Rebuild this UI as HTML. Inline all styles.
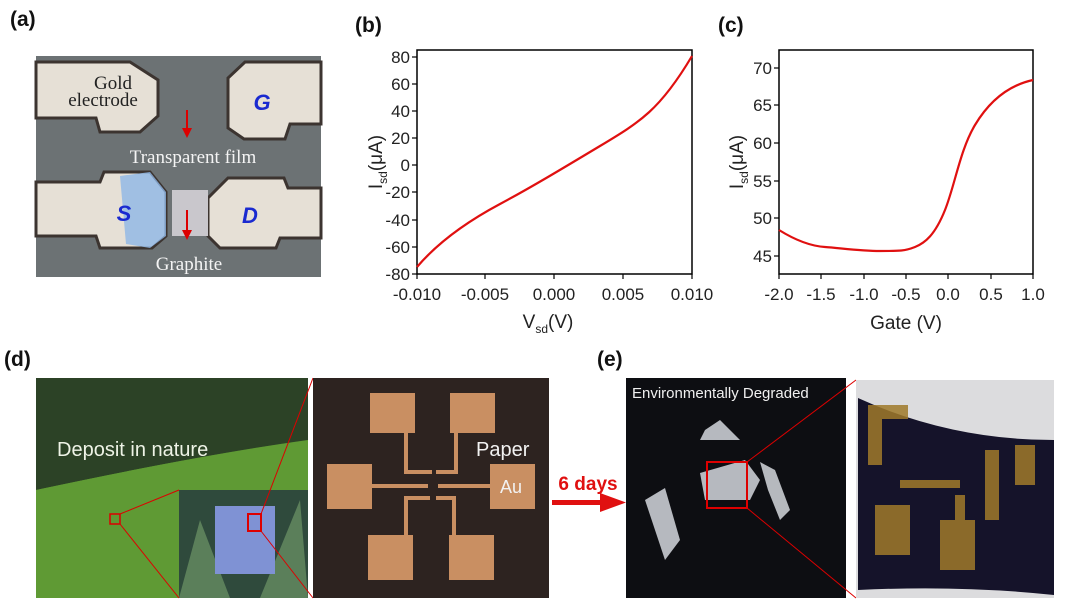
<!DOCTYPE html>
<html><head><meta charset="utf-8"><style>
html,body{margin:0;padding:0;background:#fff;}
svg{display:block;font-family:"Liberation Sans",Arial,sans-serif;}
</style></head><body>
<svg width="1080" height="614" viewBox="0 0 1080 614" xmlns="http://www.w3.org/2000/svg">
<defs>
<linearGradient id="sky" x1="0" y1="0" x2="0" y2="1"><stop offset="0" stop-color="#2f4a2a"/><stop offset="0.3" stop-color="#3b5a2c"/><stop offset="0.4" stop-color="#5f9a35"/><stop offset="1" stop-color="#4f8a2a"/></linearGradient>
<radialGradient id="blue" cx="0.5" cy="0.5" r="0.6"><stop offset="0" stop-color="#c8d8ef"/><stop offset="1" stop-color="#7fa8d8"/></radialGradient>
</defs>

<!-- panel labels -->
<g font-weight="bold" font-size="21" fill="#111">
<text x="10" y="26">(a)</text>
<text x="355" y="32">(b)</text>
<text x="718" y="32">(c)</text>
<text x="4" y="366">(d)</text>
<text x="597" y="366">(e)</text>
</g>

<!-- panel a -->
<rect x="36" y="56" width="285" height="221" fill="#6c7274"/>
<g fill="#e6e0d6" stroke="#3c3430" stroke-width="3">
<path d="M36 62 H130 L158 80 V116 L140 132 H100 L96 118 H36 Z"/>
<path d="M321 62 H245 L228 78 V128 L244 139 H285 L290 124 H321 Z"/>
<path d="M36 182 H100 L104 172 H150 L166 192 V236 L152 248 H100 L96 236 H36 Z"/>
<path d="M321 188 H288 L284 178 H228 L208 198 V236 L220 248 H276 L280 238 H321 Z"/>
</g>
<path d="M120 176 L150 172 L166 192 V236 L150 248 L126 244 Z" fill="#8fb6e6" opacity="0.8"/>
<rect x="172" y="190" width="36" height="46" fill="#c9c7cc"/>
<g fill="#d00"><rect x="186" y="110" width="2" height="20"/><path d="M182 128 L187 138 L192 128Z"/><rect x="186" y="210" width="2" height="22"/><path d="M182 230 L187 240 L192 230Z"/></g>
<g font-family="Liberation Serif,serif" font-size="19">
<text x="113" y="89" text-anchor="middle" fill="#222">Gold</text>
<text x="103" y="106" text-anchor="middle" fill="#222">electrode</text>
<text x="193" y="163" text-anchor="middle" fill="#f4f4f4">Transparent film</text>
<text x="189" y="270" text-anchor="middle" fill="#f4f4f4">Graphite</text>
</g>
<g font-weight="bold" font-style="italic" font-size="22" fill="#1a2ad0">
<text x="262" y="110" text-anchor="middle">G</text>
<text x="124" y="221" text-anchor="middle">S</text>
<text x="250" y="223" text-anchor="middle">D</text>
</g>

<!-- panel b -->
<g stroke="#000" stroke-width="1.5" fill="none">
<rect x="417" y="50" width="275" height="224"/>
</g>
<g stroke="#000" stroke-width="1.2">
<line x1="412" y1="57" x2="417" y2="57"/><line x1="412" y1="84" x2="417" y2="84"/><line x1="412" y1="111" x2="417" y2="111"/><line x1="412" y1="138" x2="417" y2="138"/><line x1="412" y1="165" x2="417" y2="165"/><line x1="412" y1="192" x2="417" y2="192"/><line x1="412" y1="220" x2="417" y2="220"/><line x1="412" y1="247" x2="417" y2="247"/><line x1="412" y1="274" x2="417" y2="274"/>
<line x1="417" y1="274" x2="417" y2="279"/><line x1="485" y1="274" x2="485" y2="279"/><line x1="554" y1="274" x2="554" y2="279"/><line x1="623" y1="274" x2="623" y2="279"/><line x1="692" y1="274" x2="692" y2="279"/>
</g>
<g font-size="17" fill="#222" text-anchor="end">
<text x="410" y="63">80</text><text x="410" y="90">60</text><text x="410" y="117">40</text><text x="410" y="144">20</text><text x="410" y="171">0</text><text x="410" y="198">-20</text><text x="410" y="226">-40</text><text x="410" y="253">-60</text><text x="410" y="280">-80</text>
</g>
<g font-size="17" fill="#222" text-anchor="middle">
<text x="417" y="300">-0.010</text><text x="485" y="300">-0.005</text><text x="554" y="300">0.000</text><text x="623" y="300">0.005</text><text x="692" y="300">0.010</text>
<text x="548" y="328" font-size="19">V<tspan font-size="12" dy="5">sd</tspan><tspan dy="-5">(V)</tspan></text>
</g>
<text transform="translate(382,162) rotate(-90)" font-size="19" fill="#222" text-anchor="middle">I<tspan font-size="12" dy="5">sd</tspan><tspan dy="-5">(μA)</tspan></text>
<path d="M417 267 C440 240 470 220 500 204 S560 170 600 146 S660 110 692 56" stroke="#e01010" stroke-width="2.2" fill="none"/>

<!-- panel c -->
<rect x="779" y="50" width="254" height="224" stroke="#000" stroke-width="1.5" fill="none"/>
<g stroke="#000" stroke-width="1.2">
<line x1="774" y1="68" x2="779" y2="68"/><line x1="774" y1="105" x2="779" y2="105"/><line x1="774" y1="143" x2="779" y2="143"/><line x1="774" y1="181" x2="779" y2="181"/><line x1="774" y1="218" x2="779" y2="218"/><line x1="774" y1="256" x2="779" y2="256"/>
<line x1="779" y1="274" x2="779" y2="279"/><line x1="821" y1="274" x2="821" y2="279"/><line x1="864" y1="274" x2="864" y2="279"/><line x1="906" y1="274" x2="906" y2="279"/><line x1="948" y1="274" x2="948" y2="279"/><line x1="991" y1="274" x2="991" y2="279"/><line x1="1033" y1="274" x2="1033" y2="279"/>
</g>
<g font-size="17" fill="#222" text-anchor="end">
<text x="772" y="74">70</text><text x="772" y="111">65</text><text x="772" y="149">60</text><text x="772" y="187">55</text><text x="772" y="224">50</text><text x="772" y="262">45</text>
</g>
<g font-size="17" fill="#222" text-anchor="middle">
<text x="779" y="300">-2.0</text><text x="821" y="300">-1.5</text><text x="864" y="300">-1.0</text><text x="906" y="300">-0.5</text><text x="948" y="300">0.0</text><text x="991" y="300">0.5</text><text x="1033" y="300">1.0</text>
<text x="906" y="329" font-size="19">Gate (V)</text>
</g>
<text transform="translate(743,162) rotate(-90)" font-size="19" fill="#222" text-anchor="middle">I<tspan font-size="12" dy="5">sd</tspan><tspan dy="-5">(μA)</tspan></text>
<path d="M779 230 C795 240 810 246 825 247 S860 251 880 251 S905 251 915 247 S935 235 945 210 S960 150 975 125 S1010 85 1033 80" stroke="#e01010" stroke-width="2.2" fill="none"/>

<!-- panel d photo 1 -->
<rect x="36" y="378" width="272" height="220" fill="url(#sky)"/>
<path d="M36 378 H308 V440 Q200 455 36 490 Z" fill="#2c4226"/>
<path d="M36 490 Q200 455 308 440 V598 H36 Z" fill="#5f9a34"/>
<text x="57" y="456" font-size="20" fill="#eef3e6">Deposit in nature</text>
<rect x="179" y="490" width="129" height="108" fill="#2f4a3c"/>
<path d="M179 598 L200 520 L230 598Z M260 598 L300 500 L308 598Z" fill="#5b7f5a"/>
<rect x="215" y="506" width="60" height="68" fill="#7f92d4"/>
<rect x="248" y="514" width="13" height="17" fill="none" stroke="#d00" stroke-width="2"/>
<rect x="110" y="514" width="10" height="10" fill="none" stroke="#d00" stroke-width="1.5"/>
<g stroke="#d00" stroke-width="1"><line x1="120" y1="514" x2="179" y2="490"/><line x1="120" y1="524" x2="179" y2="598"/><line x1="261" y1="514" x2="313" y2="378"/><line x1="261" y1="531" x2="313" y2="598"/></g>

<!-- panel d photo 2 -->
<rect x="313" y="378" width="236" height="220" fill="#2d2320"/>
<g fill="#c98f62">
<rect x="370" y="393" width="45" height="40"/><rect x="450" y="393" width="45" height="40"/>
<rect x="327" y="464" width="45" height="45"/><rect x="490" y="464" width="45" height="45"/>
<rect x="368" y="535" width="45" height="45"/><rect x="449" y="535" width="45" height="45"/>
<rect x="404" y="433" width="4" height="40"/><rect x="454" y="433" width="4" height="40"/>
<rect x="404" y="470" width="28" height="4"/><rect x="436" y="470" width="22" height="4"/>
<rect x="372" y="484" width="56" height="4"/><rect x="438" y="484" width="52" height="4"/>
<rect x="404" y="496" width="4" height="40"/><rect x="452" y="496" width="4" height="40"/>
<rect x="404" y="496" width="26" height="4"/><rect x="436" y="496" width="20" height="4"/>
</g>
<text x="476" y="456" font-size="20" fill="#f2f2f2">Paper</text>
<text x="500" y="493" font-size="18" fill="#f2f2f2">Au</text>

<!-- arrow -->
<text x="588" y="490" font-size="19" font-weight="bold" fill="#e01010" text-anchor="middle">6 days</text>
<rect x="552" y="500" width="50" height="5" fill="#e01010"/>
<path d="M600 493 L626 502.5 L600 512Z" fill="#e01010"/>

<!-- panel e photo 1 -->
<rect x="626" y="378" width="220" height="220" fill="#0d0e12"/>
<text x="632" y="398" font-size="15" fill="#f0f0f0">Environmentally Degraded</text>
<g fill="#c9ccd2" opacity="0.9">
<path d="M645 500 L665 488 L680 540 L665 560 Z"/>
<path d="M700 473 L745 460 L760 480 L750 500 L705 500 Z"/>
<path d="M705 430 L720 420 L740 440 L700 440 Z"/>
<path d="M760 462 L775 470 L790 510 L780 520 L768 490 Z"/>
</g>
<rect x="707" y="462" width="40" height="46" fill="none" stroke="#d00" stroke-width="2"/>
<g stroke="#d00" stroke-width="1"><line x1="747" y1="462" x2="856" y2="380"/><line x1="747" y1="508" x2="856" y2="598"/></g>

<!-- panel e photo 2 -->
<rect x="856" y="380" width="198" height="218" fill="#dcdcde"/>
<path d="M858 398 Q950 440 1054 440 V595 Q960 585 858 590 Z" fill="#15132a"/>
<g fill="#a07a2a" opacity="0.85">
<rect x="868" y="405" width="14" height="60"/><rect x="868" y="405" width="40" height="14"/>
<rect x="985" y="450" width="14" height="70"/><rect x="1015" y="445" width="20" height="40"/>
<rect x="955" y="495" width="10" height="60"/><rect x="940" y="520" width="35" height="50"/>
<rect x="875" y="505" width="35" height="50"/><rect x="900" y="480" width="60" height="8"/>
</g>
</svg>
</body></html>
